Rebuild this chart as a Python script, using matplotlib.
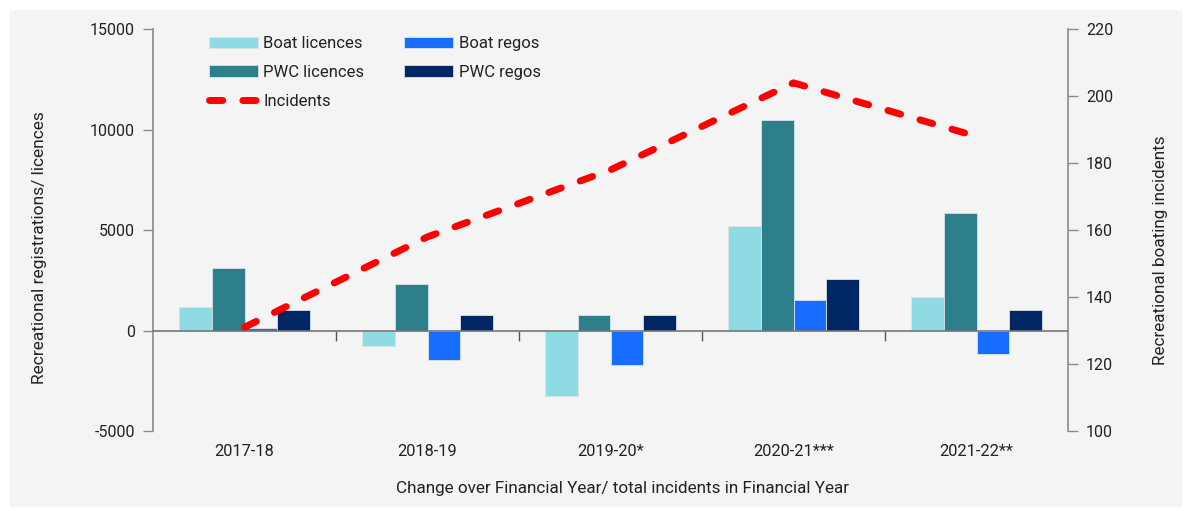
import matplotlib
matplotlib.use("Agg")
import matplotlib.pyplot as plt
import matplotlib.transforms as mtransforms
from matplotlib.patches import Rectangle
import numpy as np

plt.rcParams['font.family'] = ['Roboto', 'DejaVu Sans']
plt.rcParams['axes.unicode_minus'] = False

# data
years = ["2017-18", "2018-19", "2019-20*", "2020-21***", "2021-22**"]
boat_licences = [1170, -790, -3280, 5220, 1680]
pwc_licences = [3120, 2330, 770, 10460, 5860]
boat_regos = [120, -1460, -1710, 1545, -1190]
pwc_regos = [1020, 770, 770, 2590, 1020]
incidents = [131, 158, 178, 204, 188]

series = [
    ("Boat licences", boat_licences, "#8fdbe4"),
    ("PWC licences", pwc_licences, "#2e7f8c"),
    ("Boat regos", boat_regos, "#166dff"),
    ("PWC regos", pwc_regos, "#002663"),
]

bg = "#f4f4f4"
axis_col = "#8a8a8a"
text_col = "#222222"

fig = plt.figure(figsize=(11.92, 5.11), dpi=100)
fig.patch.set_facecolor("white")
fig.patches.append(Rectangle((10 / 1192, 4 / 511), 1172 / 1192, 497 / 511,
                             transform=fig.transFigure, facecolor=bg,
                             edgecolor="none", zorder=-10))

ax = fig.add_axes([153 / 1192, 1 - 431 / 511, 915 / 1192, 401.7 / 511])
ax.set_facecolor(bg)
ax.patch.set_alpha(0)

x = np.arange(len(years))
w = 0.18
handles = {}
for i, (name, vals, col) in enumerate(series):
    b = ax.bar(x + (i - 1.5) * w, vals, w, color=col, edgecolor="#d8e4ea",
               linewidth=0.6, label=name, zorder=2)
    handles[name] = b

ax.set_xlim(-0.5, 4.5)
ax.set_ylim(-5000, 15000)
ax.set_yticks([-5000, 0, 5000, 10000, 15000])
ax.set_xticks([0.5, 1.5, 2.5, 3.5])
ax.set_xticklabels([])
ax.tick_params(axis="x", length=7, width=1, color="#555555", direction="out")
ax.tick_params(axis="y", length=7, width=1, color=axis_col, labelsize=11.5,
               labelcolor=text_col, pad=6)

ax.spines["top"].set_visible(False)
ax.spines["bottom"].set_position(("data", 0))
ax.spines["bottom"].set_color("#777777")
ax.spines["bottom"].set_linewidth(1.2)
ax.spines["bottom"].set_zorder(3)
ax.spines["left"].set_color(axis_col)
ax.spines["left"].set_linewidth(1.2)
ax.spines["right"].set_visible(False)

trans = mtransforms.blended_transform_factory(ax.transData, ax.transAxes)
for i, lab in enumerate(years):
    ax.text(i, -0.05, lab, transform=trans, ha="center", va="center",
            fontsize=11.8, color=text_col)

ax2 = ax.twinx()
ax2.set_ylim(100, 220)
ax2.set_yticks([100, 120, 140, 160, 180, 200, 220])
ax2.tick_params(axis="y", length=7, width=1, color=axis_col, labelsize=11.5,
                labelcolor=text_col, pad=6)
for s in ["top", "bottom", "left"]:
    ax2.spines[s].set_visible(False)
ax2.spines["right"].set_color(axis_col)
ax2.spines["right"].set_linewidth(1.2)

line, = ax2.plot(x, incidents, color="#ff0000", lw=5, dashes=(1.9, 2.9),
                 dash_capstyle="round", label="Incidents", zorder=5)

leg_handles = [handles["Boat licences"], handles["PWC licences"], line,
               handles["Boat regos"], handles["PWC regos"]]
leg_labels = ["Boat licences", "PWC licences", "Incidents",
              "Boat regos", "PWC regos"]
ax2.legend(leg_handles, leg_labels, ncol=2, frameon=False, loc="upper left",
           bbox_to_anchor=(0.045, 1.02), fontsize=12, handlelength=2.9,
           handletextpad=0.35, columnspacing=2.4, labelspacing=0.82,
           labelcolor=text_col)

fig.text(40 / 1192, 1 - 248 / 511, "Recreational registrations/ licences",
         rotation=90, ha="center", va="center", fontsize=12.5, color=text_col)
fig.text(1160 / 1192, 1 - 250 / 511, "Recreational boating incidents",
         rotation=90, ha="center", va="center", fontsize=12.3, color=text_col)
fig.text(623 / 1192, 1 - 488 / 511,
         "Change over Financial Year/ total incidents in Financial Year",
         ha="center", va="center", fontsize=12.3, color=text_col)

fig.savefig("out.png", dpi=100, facecolor=fig.get_facecolor())
